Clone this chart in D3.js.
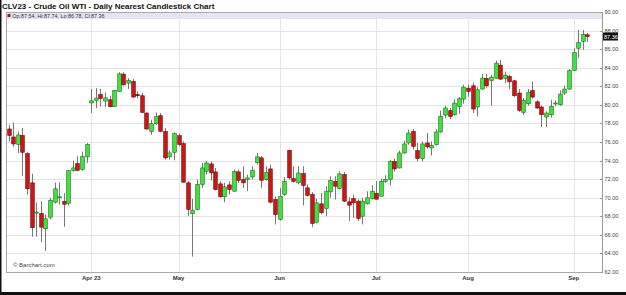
<!DOCTYPE html>
<html>
<head>
<meta charset="utf-8">
<script src="https://cdn.jsdelivr.net/npm/d3@7"></script>
<style>
  body { margin: 0; background: #fff; }
  text { font-family: Arial, "Liberation Sans", sans-serif; }
</style>
</head>
<body>
<div class="chart"></div>
<script>
// daily OHLC, CLV23, Mar 8 - Sep 7 2023
var opens = [77.4, 76.54, 75.75, 76.71, 74.75, 71.6, 68.35, 68.3, 66.66, 67.9,
  69.52, 70.0, 69.6, 69.41, 72.92, 73.67, 73.03, 74.4, 80.2, 80.47,
  81.12, 80.41, 80.55, 79.83, 81.44, 83.31, 82.34, 82.51, 81.12, 80.98,
  79.12, 77.14, 77.97, 78.83, 77.14, 74.4, 74.89, 76.68, 75.82, 71.6,
  68.27, 68.73, 71.42, 72.85, 73.64, 72.78, 71.49, 70.1, 71.38, 70.7,
  72.78, 71.95, 71.95, 72.24, 73.81, 74.29, 71.95, 73.1, 69.81, 67.66,
  70.34, 75.1, 72.06, 71.6, 72.6, 71.06, 70.34, 67.37, 69.34, 68.84,
  70.63, 71.77, 70.99, 72.49, 69.56, 69.91, 69.63, 68.01, 69.34, 69.91,
  70.48, 70.16, 71.77, 71.95, 73.92, 73.21, 74.82, 75.9, 77.14, 75.07,
  74.21, 75.9, 75.36, 75.71, 77.08, 78.9, 79.37, 78.94, 79.83, 80.62,
  81.8, 82.05, 79.77, 81.7, 82.84, 82.62, 82.88, 84.28, 82.84, 83.05,
  82.59, 81.27, 79.18, 80.12, 81.55, 80.33, 79.77, 78.69, 78.94, 80.15,
  80.01, 81.27, 81.7, 83.7, 86.1, 86.81, 87.54];
var highs = [77.86, 78.11, 77.14, 77.5, 74.9, 72.6, 69.48, 69.62, 68.2, 70.0,
  71.63, 71.66, 70.5, 73.0, 74.0, 74.46, 74.96, 75.9, 81.7, 81.8,
  81.7, 81.33, 80.98, 81.62, 83.52, 83.5, 82.88, 82.8, 81.44, 81.3,
  79.18, 78.4, 79.18, 79.12, 77.5, 75.1, 77.04, 76.9, 76.07, 71.77,
  69.88, 71.95, 73.75, 73.92, 73.92, 73.21, 71.77, 71.6, 71.77, 73.03,
  73.03, 73.39, 72.5, 73.39, 74.82, 74.5, 73.39, 73.57, 70.16, 71.06,
  72.24, 75.2, 73.39, 73.39, 73.39, 71.42, 70.59, 69.91, 70.52, 71.24,
  72.31, 72.31, 72.85, 72.77, 70.05, 70.34, 69.81, 69.99, 70.7, 71.34,
  71.77, 72.06, 72.42, 74.1, 74.18, 75.07, 76.14, 77.33, 77.4, 75.9,
  76.05, 76.97, 76.07, 77.4, 79.37, 79.9, 79.66, 80.62, 80.84, 82.16,
  82.16, 82.41, 81.91, 83.34, 83.34, 83.23, 84.77, 84.84, 83.59, 83.23,
  82.7, 81.7, 80.73, 81.7, 82.51, 80.48, 79.9, 79.29, 80.55, 80.48,
  81.55, 82.05, 83.83, 86.1, 88.07, 88.07, 87.74];
var lows = [76.07, 75.47, 74.82, 72.31, 70.34, 65.8, 65.8, 65.22, 64.25, 67.66,
  69.38, 69.27, 66.87, 69.16, 72.8, 72.85, 72.9, 73.75, 79.12, 79.66,
  79.83, 79.76, 79.74, 79.8, 81.4, 82.05, 81.7, 80.76, 80.7, 79.15,
  77.33, 76.79, 77.86, 77.06, 74.1, 74.1, 74.03, 75.53, 71.6, 68.01,
  63.65, 68.63, 71.06, 72.49, 71.85, 70.8, 70.02, 69.52, 70.34, 70.66,
  71.6, 71.06, 70.7, 71.95, 73.57, 71.06, 71.85, 69.4, 67.12, 67.55,
  70.2, 71.95, 71.63, 71.42, 69.16, 70.13, 66.83, 67.23, 68.2, 68.01,
  69.99, 69.81, 70.88, 69.52, 67.48, 67.84, 67.48, 67.12, 69.27, 69.81,
  69.81, 70.13, 71.6, 71.34, 72.81, 73.14, 74.75, 75.71, 75.18, 73.92,
  73.92, 75.29, 74.57, 75.6, 77.0, 78.55, 78.47, 78.83, 79.04, 80.12,
  80.87, 79.12, 78.75, 81.62, 81.84, 79.9, 82.8, 82.7, 82.34, 81.7,
  80.87, 79.26, 78.94, 79.9, 80.66, 79.58, 77.62, 77.62, 78.61, 79.83,
  79.9, 81.08, 81.62, 83.66, 85.03, 85.92, 86.78];
var closes = [76.7, 75.79, 76.76, 74.89, 70.96, 66.77, 68.45, 66.83, 67.73, 69.73,
  70.96, 70.1, 69.3, 72.92, 73.21, 72.95, 74.43, 75.75, 80.44, 80.73,
  80.69, 80.76, 79.8, 81.55, 83.34, 82.16, 82.62, 80.84, 80.98, 79.18,
  77.4, 77.97, 78.75, 77.14, 74.29, 74.82, 76.9, 75.71, 71.67, 68.73,
  68.66, 71.42, 73.21, 73.75, 72.67, 70.88, 70.1, 71.17, 70.88, 72.85,
  71.88, 71.6, 72.14, 72.96, 74.4, 71.88, 72.74, 69.52, 68.2, 70.16,
  71.77, 72.14, 71.77, 72.67, 71.31, 70.24, 67.23, 69.45, 68.38, 70.7,
  71.85, 71.24, 72.57, 69.63, 69.2, 69.45, 67.77, 69.63, 69.99, 70.7,
  69.84, 71.77, 71.95, 73.92, 73.1, 74.82, 75.79, 76.97, 75.53, 74.21,
  75.79, 75.47, 75.64, 77.08, 78.75, 79.66, 78.75, 80.19, 80.66, 81.91,
  81.44, 79.55, 81.62, 82.88, 82.05, 82.99, 84.49, 82.77, 83.2, 82.48,
  80.98, 79.4, 80.47, 81.33, 80.84, 79.66, 78.94, 79.12, 79.83, 80.2,
  81.16, 81.7, 83.7, 85.63, 86.7, 87.6, 87.36];

// trading days (weekends and exchange holidays skipped)
var holidays = ["2023-04-07", "2023-05-29", "2023-06-19", "2023-07-04", "2023-09-04"];
var fmtDay = d3.timeFormat("%Y-%m-%d");
var days = d3.timeDays(new Date(2023, 2, 8), new Date(2023, 8, 8)).filter(function (d) {
  return d.getDay() != 0 && d.getDay() != 6 && holidays.indexOf(fmtDay(d)) < 0;
});

var monthLabels = ["Apr 23", "May", "Jun", "Jul", "Aug", "Sep"];
var priceTicks = d3.range(62, 90.01, 2);

var width = 626;
var height = 295;
var plotLeft = 6, plotRight = 602, plotTop = 12, plotBottom = 272;

var svg = d3
  .select(".chart")
  .append("svg")
  .attr("width", width)
  .attr("height", height);

var x = d3.scaleBand().domain(d3.range(days.length)).range([plotLeft, 590]).padding(0.12);
var y = d3.scaleLinear().domain([62, 90]).range([plotBottom, plotTop]);

function cx(i) {
  return x(i) + x.bandwidth() / 2;
}

// first trading day of each month from April on
var monthStarts = [];
days.forEach(function (d, i) {
  if (i > 0 && d.getMonth() != days[i - 1].getMonth()) monthStarts.push(i);
});

// outer frame (left + bottom dark edge)
svg.append("rect").attr("x", 0).attr("y", 0).attr("width", 1.5).attr("height", height).attr("fill", "#111");
svg.append("rect").attr("x", 0).attr("y", 292).attr("width", width).attr("height", 3).attr("fill", "#111");

svg
  .append("text")
  .text("CLV23 - Crude Oil WTI - Daily Nearest Candlestick Chart")
  .attr("x", 2)
  .attr("y", 8.6)
  .attr("font-size", 8)
  .attr("font-weight", "bold")
  .attr("fill", "#111");

// grid
var grid = svg.append("g");
grid
  .selectAll("line.h")
  .data(priceTicks)
  .enter()
  .append("line")
  .attr("x1", plotLeft)
  .attr("x2", plotRight)
  .attr("y1", function (d) { return Math.round(y(d)) + 0.5; })
  .attr("y2", function (d) { return Math.round(y(d)) + 0.5; })
  .attr("stroke", "#e4e4e4");
grid
  .selectAll("line.v")
  .data(monthStarts)
  .enter()
  .append("line")
  .attr("x1", function (i) { return Math.round(cx(i)) + 0.5; })
  .attr("x2", function (i) { return Math.round(cx(i)) + 0.5; })
  .attr("y1", plotTop)
  .attr("y2", plotBottom)
  .attr("stroke", "#e4e4e4");

// legend band
svg.append("rect").attr("x", plotLeft).attr("y", plotTop).attr("width", plotRight - plotLeft).attr("height", 7).attr("fill", "#e3e5f5");
svg.append("line").attr("x1", plotLeft).attr("x2", plotRight).attr("y1", plotTop + 0.5).attr("y2", plotTop + 0.5).attr("stroke", "#c5c8e0");
svg.append("rect").attr("x", 7.5).attr("y", 14).attr("width", 3).attr("height", 3).attr("fill", "#b01010");
var last = days.length - 1;
svg
  .append("text")
  .text("Op:" + opens[last].toFixed(2) + ", Hi:" + highs[last].toFixed(2) + ", Lo:" + lows[last].toFixed(2) + ", Cl:" + closes[last].toFixed(2))
  .attr("x", 12.3)
  .attr("y", 18)
  .attr("font-size", 5.4)
  .attr("fill", "#333");

// plot border
svg
  .append("rect")
  .attr("x", plotLeft + 0.5)
  .attr("y", plotTop + 0.5)
  .attr("width", plotRight - plotLeft)
  .attr("height", plotBottom - plotTop)
  .attr("fill", "none")
  .attr("stroke", "#aaa");

// candles
var candles = svg.append("g");
candles
  .selectAll("line")
  .data(d3.range(days.length))
  .enter()
  .append("line")
  .attr("x1", function (i) { return Math.round(cx(i)) + 0.5; })
  .attr("x2", function (i) { return Math.round(cx(i)) + 0.5; })
  .attr("y1", function (i) { return y(highs[i]); })
  .attr("y2", function (i) { return y(lows[i]); })
  .attr("stroke", "#777")
  .attr("stroke-width", 1);
candles
  .selectAll("rect")
  .data(d3.range(days.length))
  .enter()
  .append("rect")
  .attr("x", function (i) { return Math.round(cx(i)) + 0.5 - 1.8; })
  .attr("width", 3.6)
  .attr("y", function (i) { return y(Math.max(opens[i], closes[i])); })
  .attr("height", function (i) { return Math.max(1, Math.abs(y(opens[i]) - y(closes[i]))); })
  .attr("fill", function (i) { return closes[i] >= opens[i] ? "#3de23d" : "#cc1515"; })
  .attr("stroke", function (i) { return closes[i] >= opens[i] ? "#1c6e1c" : "#6a0a0a"; })
  .attr("stroke-width", 0.6);

// right price axis
var yAxis = svg.append("g").attr("transform", "translate(" + plotRight + ",0)");
yAxis.append("line").attr("x1", 0.5).attr("x2", 0.5).attr("y1", plotTop).attr("y2", plotBottom).attr("stroke", "#999");
yAxis
  .selectAll("line.t")
  .data(priceTicks)
  .enter()
  .append("line")
  .attr("x1", -2)
  .attr("x2", 1)
  .attr("y1", function (d) { return Math.round(y(d)) + 0.5; })
  .attr("y2", function (d) { return Math.round(y(d)) + 0.5; })
  .attr("stroke", "#999");
yAxis
  .selectAll("text")
  .data(priceTicks)
  .enter()
  .append("text")
  .text(function (d) { return d.toFixed(2); })
  .attr("x", 2.5)
  .attr("y", function (d) { return y(d) + 2; })
  .attr("font-size", 5.5)
  .attr("fill", "#444");

// last price marker
var lastY = y(closes[last]);
svg.append("rect").attr("x", plotRight + 1).attr("y", lastY - 4).attr("width", 15).attr("height", 8).attr("fill", "#111");
svg
  .append("text")
  .text(closes[last].toFixed(2))
  .attr("x", plotRight + 2)
  .attr("y", lastY + 2)
  .attr("font-size", 5.5)
  .attr("fill", "#fff");

// month labels
svg
  .append("g")
  .selectAll("text")
  .data(monthStarts)
  .enter()
  .append("text")
  .text(function (i, k) { return monthLabels[k]; })
  .attr("x", function (i) { return cx(i); })
  .attr("y", 279.5)
  .attr("text-anchor", "middle")
  .attr("font-size", 6)
  .attr("font-weight", "bold")
  .attr("fill", "#333");

svg
  .append("text")
  .text("\u00a9 Barchart.com")
  .attr("x", 13)
  .attr("y", 267)
  .attr("font-size", 6)
  .attr("fill", "#444");
</script>
</body>
</html>
